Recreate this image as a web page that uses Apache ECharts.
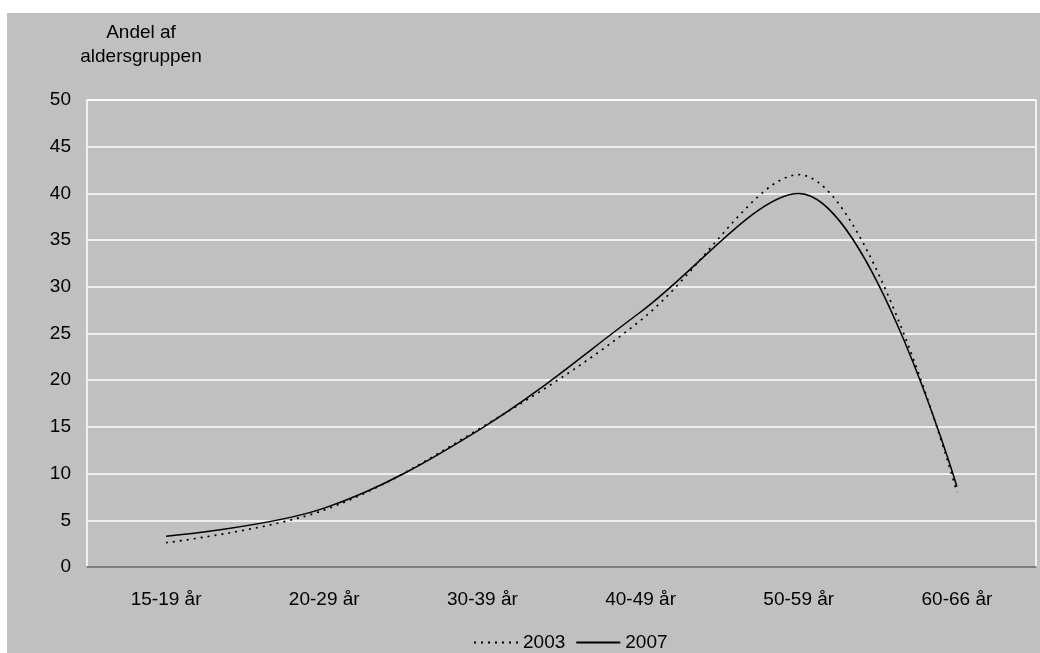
<!DOCTYPE html>
<html>
<head>
<meta charset="utf-8">
<script src="https://cdn.jsdelivr.net/npm/echarts@6/dist/echarts.min.js"></script>
<style>
html,body{margin:0;padding:0;background:#fff;}
#c{width:1040px;height:653px;}
</style>
</head>
<body>
<div id="c"></div>
<script>
var categories = ['15-19 år', '20-29 år', '30-39 år', '40-49 år', '50-59 år', '60-66 år'];
var values2003 = [2.6, 6.1, 15.0, 26.4, 42.0, 8.0];
var values2007 = [3.3, 6.3, 14.9, 27.3, 40.0, 8.6];
var seriesNames = ['2003', '2007'];
var yTitle = 'Andel af\naldersgruppen';

var FONT = '"Liberation Sans", Arial, sans-serif';
var chart = echarts.init(document.getElementById('c'), null, {renderer: 'canvas'});
chart.setOption({
  backgroundColor: '#ffffff',
  animation: false,
  textStyle: {fontFamily: FONT},
  graphic: [
    {type: 'rect', z: -10, silent: true, shape: {x: 7, y: 13, width: 1033, height: 640}, style: {fill: '#c0c0c0'}},
    {type: 'text', x: 141, y: 45, style: {text: yTitle, font: '19px ' + FONT, fill: '#000', textAlign: 'center', textVerticalAlign: 'middle', lineHeight: 24}}
  ],
  grid: {left: 87, right: 4, top: 100, bottom: 86, show: true, borderColor: '#ffffff', borderWidth: 1.5, backgroundColor: 'transparent'},
  legend: {
    top: 633, left: 473, padding: 0, itemWidth: 44, itemHeight: 10, itemGap: 10,
    itemStyle: {opacity: 0},
    textStyle: {fontSize: 19, color: '#000', fontFamily: FONT},
    data: seriesNames
  },
  xAxis: {
    type: 'category', data: categories, boundaryGap: true,
    axisLine: {lineStyle: {color: '#555555', width: 1.5}},
    axisTick: {show: false},
    axisLabel: {fontSize: 19, color: '#000', margin: 23, fontFamily: FONT},
    splitLine: {show: false}
  },
  yAxis: {
    type: 'value', min: 0, max: 50, interval: 5,
    axisLine: {show: false}, axisTick: {show: false},
    axisLabel: {fontSize: 19, color: '#000', margin: 16, fontFamily: FONT},
    splitLine: {lineStyle: {color: '#ffffff', width: 1.5}}
  },
  series: [
    {name: seriesNames[0], type: 'line', data: values2003, smooth: 0.35, symbol: 'none',
     lineStyle: {color: '#000', width: 1.7, type: [2, 5]}, itemStyle: {color: '#000'}},
    {name: seriesNames[1], type: 'line', data: values2007, smooth: 0.35, symbol: 'none',
     lineStyle: {color: '#000', width: 1.5, type: 'solid'}, itemStyle: {color: '#000'}}
  ]
});
</script>
</body>
</html>
